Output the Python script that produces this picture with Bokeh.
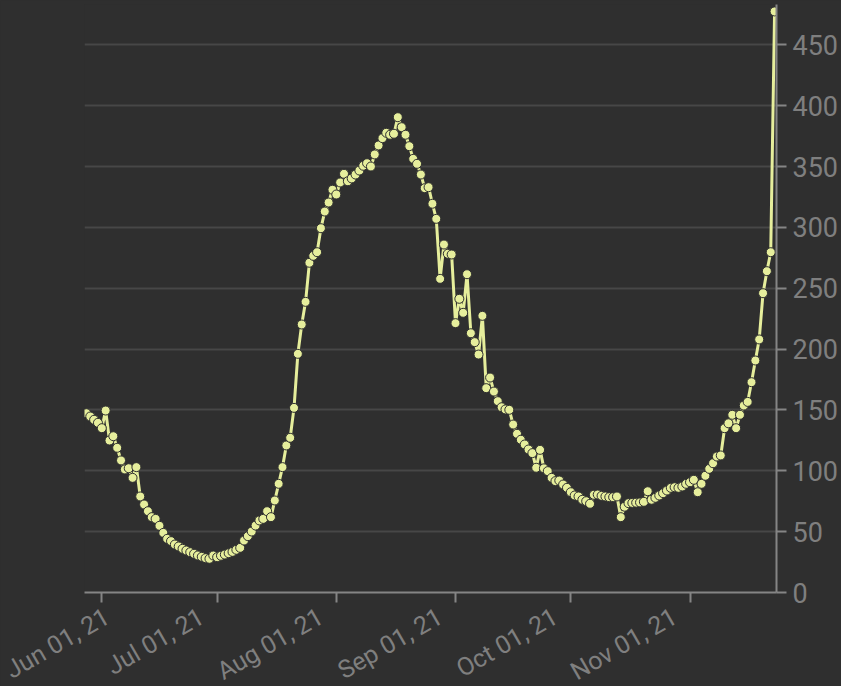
import pandas as pd
from math import radians
from bokeh.plotting import figure
from bokeh.models import ColumnDataSource, FixedTicker, Range1d, DatetimeAxis
from bokeh.embed import file_html
from bokeh.resources import INLINE

start_date = "2021-05-28"
values = [
    147.3, 144.6, 141.9, 139.4,
    # Jun
    135, 149.5, 124.9, 128.4, 118.9, 108.5, 101.1, 102.1, 94.2, 103,
    78.9, 72.3, 66.8, 61.9, 60.5, 54.8, 49, 44.1, 42.2, 39.4,
    37.8, 35.9, 34.5, 33.1, 31.8, 30.4, 29.3, 28.2, 27.7, 30.4,
    # Jul
    29, 30.2, 31.2, 32.3, 33.4, 35.1, 36.7, 42.7, 46.3, 50.1,
    55, 59.2, 60.5, 66.8, 61.9, 75.6, 89.3, 103, 120.8, 127.1,
    151.7, 196.1, 220.2, 238.8, 270.9, 276.6, 279.6, 299.3, 313, 320.4, 330.9,
    # Aug
    327, 336.9, 344, 337.9, 340.2, 343.4, 346.7, 350.6, 352.7, 350,
    359.9, 367.3, 373.3, 377.7, 376.1, 376.9, 390.5, 382.3, 376.1, 366.7,
    356.3, 352.2, 343.4, 332.2, 333, 319.4, 307, 257.7, 285.9, 278.3, 277.7,
    # Sep
    221.3, 241.3, 229.8, 261.5, 213, 205.7, 195.5, 227.3, 167.9, 176.6,
    165.1, 157.2, 152.2, 150.4, 150.1, 138, 130.4, 125.5, 121.6, 117.5,
    114.5, 102.5, 117.2, 102, 99.7, 94.2, 91.5, 92, 88.7, 86,
    # Oct
    82.4, 79.7, 78.9, 76.2, 75, 72.9, 80.3, 80.5, 79.4, 78.9,
    78.3, 78.3, 78.9, 61.9, 70.5, 73.4, 73.6, 73.8, 74, 74.5,
    83.2, 76.2, 77.8, 79.7, 81.6, 83.8, 86, 86.5, 86, 87.1, 89.3,
    # Nov
    90.6, 92.6, 82.4, 89.3, 95.9, 101.6, 106.2, 111.7, 112.6, 135,
    139, 146, 135, 146, 153.6, 156.6, 172.8, 190.6, 207.9, 245.9,
    264, 279.6, 477.4,
]
x_tick_dates = ["2021-06-01", "2021-07-01", "2021-08-01",
                "2021-09-01", "2021-10-01", "2021-11-01"]
x_tick_labels = ["Jun 01, 21", "Jul 01, 21", "Aug 01, 21",
                 "Sep 01, 21", "Oct 01, 21", "Nov 01, 21"]
y_ticks = [0, 50, 100, 150, 200, 250, 300, 350, 400, 450]

dates = pd.date_range(start_date, periods=len(values), freq="D")
src = ColumnDataSource(data=dict(date=dates, value=values))
tick_ts = pd.to_datetime(x_tick_dates)
tick_ms = [t.value / 1e6 for t in tick_ts]
# rotated labels sit a little left of their tick marks (as in the reference)
label_shift_ms = -96 * 3600 * 1000
label_ms = [m + label_shift_ms for m in tick_ms]

BG = "#2f2f2f"
LINE = "#e6ee9c"
AXIS = "#858585"
LABEL = "#7f7f7f"
GRID = "#474747"

pad = pd.Timedelta(hours=12)
p = figure(
    x_axis_type="datetime", y_axis_location="right",
    frame_width=692, frame_height=588,
    min_border_left=84, min_border_right=60, min_border_top=4, min_border_bottom=20,
    x_range=Range1d(dates[0] - pad, dates[-1] + pad),
    y_range=Range1d(0, 483.1),
    output_backend="svg", toolbar_location=None,
    background_fill_color=BG, border_fill_color=BG,
)
p.outline_line_color = None

p.line("date", "value", source=src, line_color=LINE, line_width=3)
p.scatter("date", "value", source=src, size=9, fill_color=LINE,
          line_color=BG, line_width=1)

# axis with line and tick marks only
xa = p.xaxis[0]
xa.ticker = FixedTicker(ticks=tick_ms)
xa.major_label_text_font_size = "0px"
xa.major_label_text_color = None
xa.major_label_standoff = 0
p.yaxis.ticker = FixedTicker(ticks=y_ticks)

for ax in (xa, p.yaxis[0]):
    ax.axis_line_color = AXIS
    ax.axis_line_width = 2
    ax.major_tick_line_color = AXIS
    ax.major_tick_line_width = 2
    ax.major_tick_out = 10
    ax.major_tick_in = 0
    ax.minor_tick_line_color = None
p.yaxis.major_label_text_color = LABEL
p.yaxis.major_label_text_font = "Roboto"
p.yaxis.major_label_text_font_size = "27px"
p.yaxis.major_label_standoff = 6

# second axis carrying the rotated date labels
xl = DatetimeAxis(
    ticker=FixedTicker(ticks=label_ms),
    major_label_overrides={m: lab for m, lab in zip(label_ms, x_tick_labels)},
    axis_line_color=None, major_tick_line_color=None, minor_tick_line_color=None,
    major_tick_out=0, major_tick_in=0,
    major_label_orientation=radians(30), major_label_standoff=12,
    major_label_text_color=LABEL, major_label_text_font="Roboto",
    major_label_text_font_size="25px",
)
p.add_layout(xl, "below")

p.xgrid.grid_line_color = None
p.ygrid.grid_line_color = GRID
p.ygrid.grid_line_width = 2

html = file_html(p, INLINE)
html = html.replace("</head>", "<style>html, body { background-color: %s; }</style></head>" % BG, 1)
open("out.html", "w").write(html)
